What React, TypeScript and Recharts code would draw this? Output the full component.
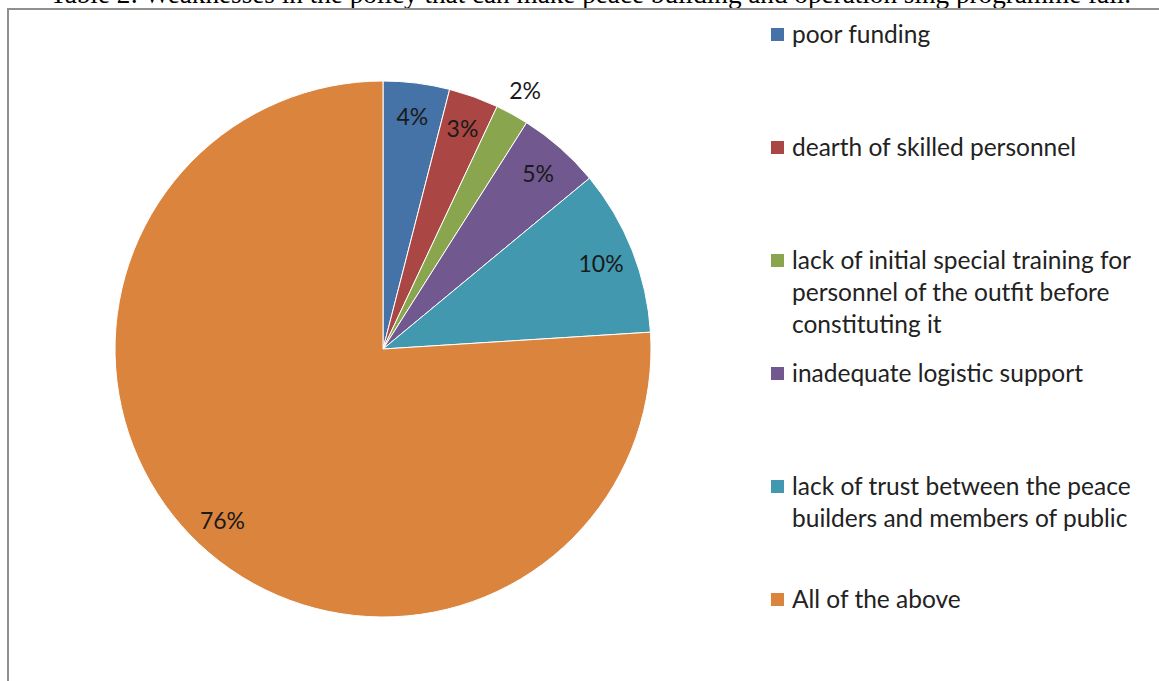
import React from "react";
import { PieChart, Pie, Cell, Legend } from "recharts";

const categories = [
  "poor funding",
  "dearth of skilled personnel",
  "lack of initial special training for personnel of the outfit before constituting it",
  "inadequate logistic support",
  "lack of trust between the peace builders and members of public",
  "All of the above",
];
const percents = [4, 3, 2, 5, 10, 76];
const colors = ["#4572A7", "#AA4643", "#89A54E", "#71588F", "#4198AF", "#DB843D"];

const title =
  "Table 2: Weaknesses in the policy that can make peace building and operation sing programme fail.";

const data = categories.map((name, i) => ({ name, value: percents[i] }));

const FONT = "Lato, 'Open Sans', sans-serif";
const RAD = Math.PI / 180;

function renderLabel(props: any) {
  const { cx, cy, midAngle, outerRadius, percent, value } = props;
  const outside = percent < 0.025;
  const r = outside ? outerRadius + 27 : outerRadius * 0.875;
  const x = cx + r * Math.cos(-midAngle * RAD);
  const y = cy + r * Math.sin(-midAngle * RAD);
  return (
    <text
      x={x}
      y={y}
      textAnchor="middle"
      dominantBaseline="central"
      fontSize={23}
      fontFamily={FONT}
      fill="#1a1a1a"
    >
      {value}%
    </text>
  );
}

function renderLegend(props: any) {
  const items = [...(props.payload || [])].sort(
    (a: any, b: any) => categories.indexOf(a.value) - categories.indexOf(b.value)
  );
  return (
    <div style={{ fontFamily: FONT, fontSize: 24.5, color: "#222", lineHeight: "32px" }}>
      {items.map((p: any, i: number) => (
        <div key={i} style={{ height: 113, display: "flex", alignItems: "flex-start" }}>
          <span
            style={{
              display: "inline-block",
              width: 13,
              height: 13,
              background: p.color,
              marginTop: 10,
              marginRight: 8,
              flex: "none",
            }}
          />
          <span style={{ width: 356 }}>{p.value}</span>
        </div>
      ))}
    </div>
  );
}

export default function App() {
  return (
    <div
      style={{
        position: "absolute",
        left: 0,
        top: 0,
        width: 1159,
        height: 681,
        overflow: "hidden",
        background: "#fff",
      }}
    >
      <div
        style={{
          position: "absolute",
          left: 50,
          top: -19,
          whiteSpace: "nowrap",
          fontFamily: "'Liberation Serif', 'Times New Roman', serif",
          fontSize: 27.2,
          lineHeight: 1,
          color: "#000",
        }}
      >
        {title}
      </div>
      <div
        style={{
          position: "absolute",
          left: 7,
          top: 8,
          width: 1300,
          height: 800,
          border: "2px solid #8f8f8f",
        }}
      />
      <div style={{ position: "absolute", left: 0, top: 0 }}>
        <PieChart width={1159} height={681} margin={{ top: 0, right: 0, bottom: 0, left: 0 }}>
          <Pie
            data={data}
            dataKey="value"
            nameKey="name"
            cx={383}
            cy={349}
            outerRadius={268}
            startAngle={90}
            endAngle={-270}
            stroke="#ffffff"
            strokeWidth={1}
            label={renderLabel}
            labelLine={false}
            isAnimationActive={false}
          >
            {data.map((d, i) => (
              <Cell key={d.name} fill={colors[i]} />
            ))}
          </Pie>
          <Legend
            layout="vertical"
            content={renderLegend}
            wrapperStyle={{ position: "absolute", left: 771, top: 18, width: 385 }}
          />
        </PieChart>
      </div>
    </div>
  );
}
